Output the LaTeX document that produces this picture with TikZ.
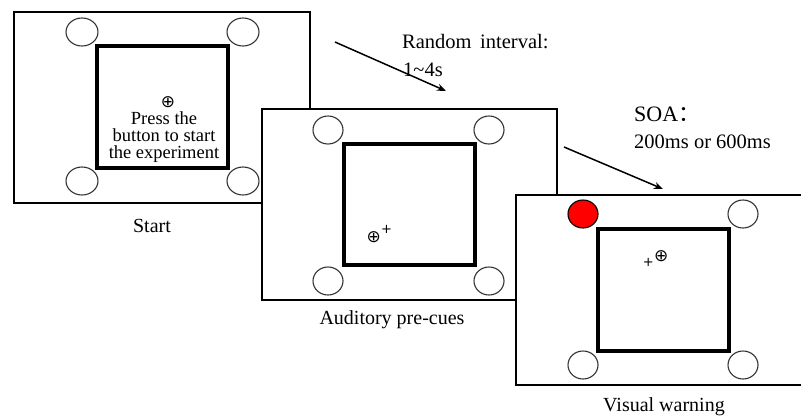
\documentclass[tikz,border=0pt]{standalone}
\usepackage{fontspec}
\setmainfont{Liberation Serif}
\newfontfamily\symfont{DejaVu Sans}
\newfontfamily\cjkfont{Noto Sans CJK SC}
\usetikzlibrary{arrows.meta}
\tikzset{
  frame/.style={draw=black, line width=1.6pt, fill=white},
  inner/.style={draw=black, line width=3.3pt},
  disc/.style={draw=black!80, line width=1.1pt, fill=white},
  fix/.style={font=\symfont\fontsize{17}{17}\selectfont, inner sep=0pt, text height=10pt, text depth=0pt},
  plusmark/.style={font=\symfont\fontsize{13}{13}\selectfont, inner sep=0pt, text height=8pt, text depth=0pt},
  captxt/.style={font=\fontsize{20}{20}\selectfont, inner sep=0pt},
  lbl/.style={font=\fontsize{20.5}{20.5}\selectfont, inner sep=0pt, anchor=west},
  arr/.style={-{Stealth[length=9pt,width=7pt]}, line width=1.5pt},
}
\begin{document}
\begin{tikzpicture}[x=1pt,y=-1pt]
\clip (0,0) rectangle (801,416);
\fill[white] (0,0) rectangle (801,416);

% Frame 1
\draw[frame] (14,12) rectangle (310,203);
\draw[inner] (97,46) rectangle (228,168);
\draw[disc] (82,32) ellipse [x radius=16, y radius=14];
\draw[disc] (243,32) ellipse [x radius=16, y radius=14];
\draw[disc] (82,181) ellipse [x radius=16, y radius=14];
\draw[disc] (243,181) ellipse [x radius=16, y radius=14];
\node[fix] (fx1) at (168,102) {⊕};
\node[align=center, font=\fontsize{18.5}{17}\selectfont, inner sep=0pt, anchor=north] (press) at (164,111) {Press the\\button to start\\the experiment};
\node[captxt] (start) at (152,226) {Start};

% Frame 2
\draw[frame] (262,109) rectangle (557,300);
\draw[inner] (344,144) rectangle (475,265);
\draw[disc] (328,130) ellipse [x radius=15, y radius=14];
\draw[disc] (489,130) ellipse [x radius=15, y radius=14];
\draw[disc] (328,281) ellipse [x radius=15, y radius=14];
\draw[disc] (489,281) ellipse [x radius=15, y radius=14];
\node[fix, anchor=east] (fx2) at (381,237) {⊕};
\node[plusmark, anchor=west] (p2) at (381,229) {+};
\node[captxt] (aud) at (392,320) {Auditory pre-cues};

% Frame 3
\draw[frame] (516,195) rectangle (812,385);
\draw[inner] (598,229) rectangle (729,351);
\draw[disc, draw=black, fill=red] (583,214) ellipse [x radius=15, y radius=14];
\draw[disc] (743,214) ellipse [x radius=15, y radius=14];
\draw[disc] (583,365) ellipse [x radius=15, y radius=14];
\draw[disc] (743,365) ellipse [x radius=15, y radius=14];
\node[fix, anchor=west] (fx3) at (654,256) {⊕};
\node[plusmark, anchor=east] (p3) at (654,262) {+};
\node[captxt] (vis) at (664,407) {Visual warning};

% Arrows and labels
\coordinate (a1s) at (335,42);
\coordinate (a1e) at (446,91);
\draw[arr] (a1s) -- (a1e);
\node[lbl] (rand) at (402,42) {Random\, interval:};
\node[lbl] (rng) at (403,70) {1\textasciitilde 4s};

\coordinate (a2s) at (564,147);
\coordinate (a2e) at (663,189);
\draw[arr] (a2s) -- (a2e);
\node[lbl, font=\fontsize{22}{22}\selectfont] (soa) at (634,114) {SOA{\cjkfont ：}};
\node[lbl] (soav) at (634,142) {200ms or 600ms};
\end{tikzpicture}
\end{document}
